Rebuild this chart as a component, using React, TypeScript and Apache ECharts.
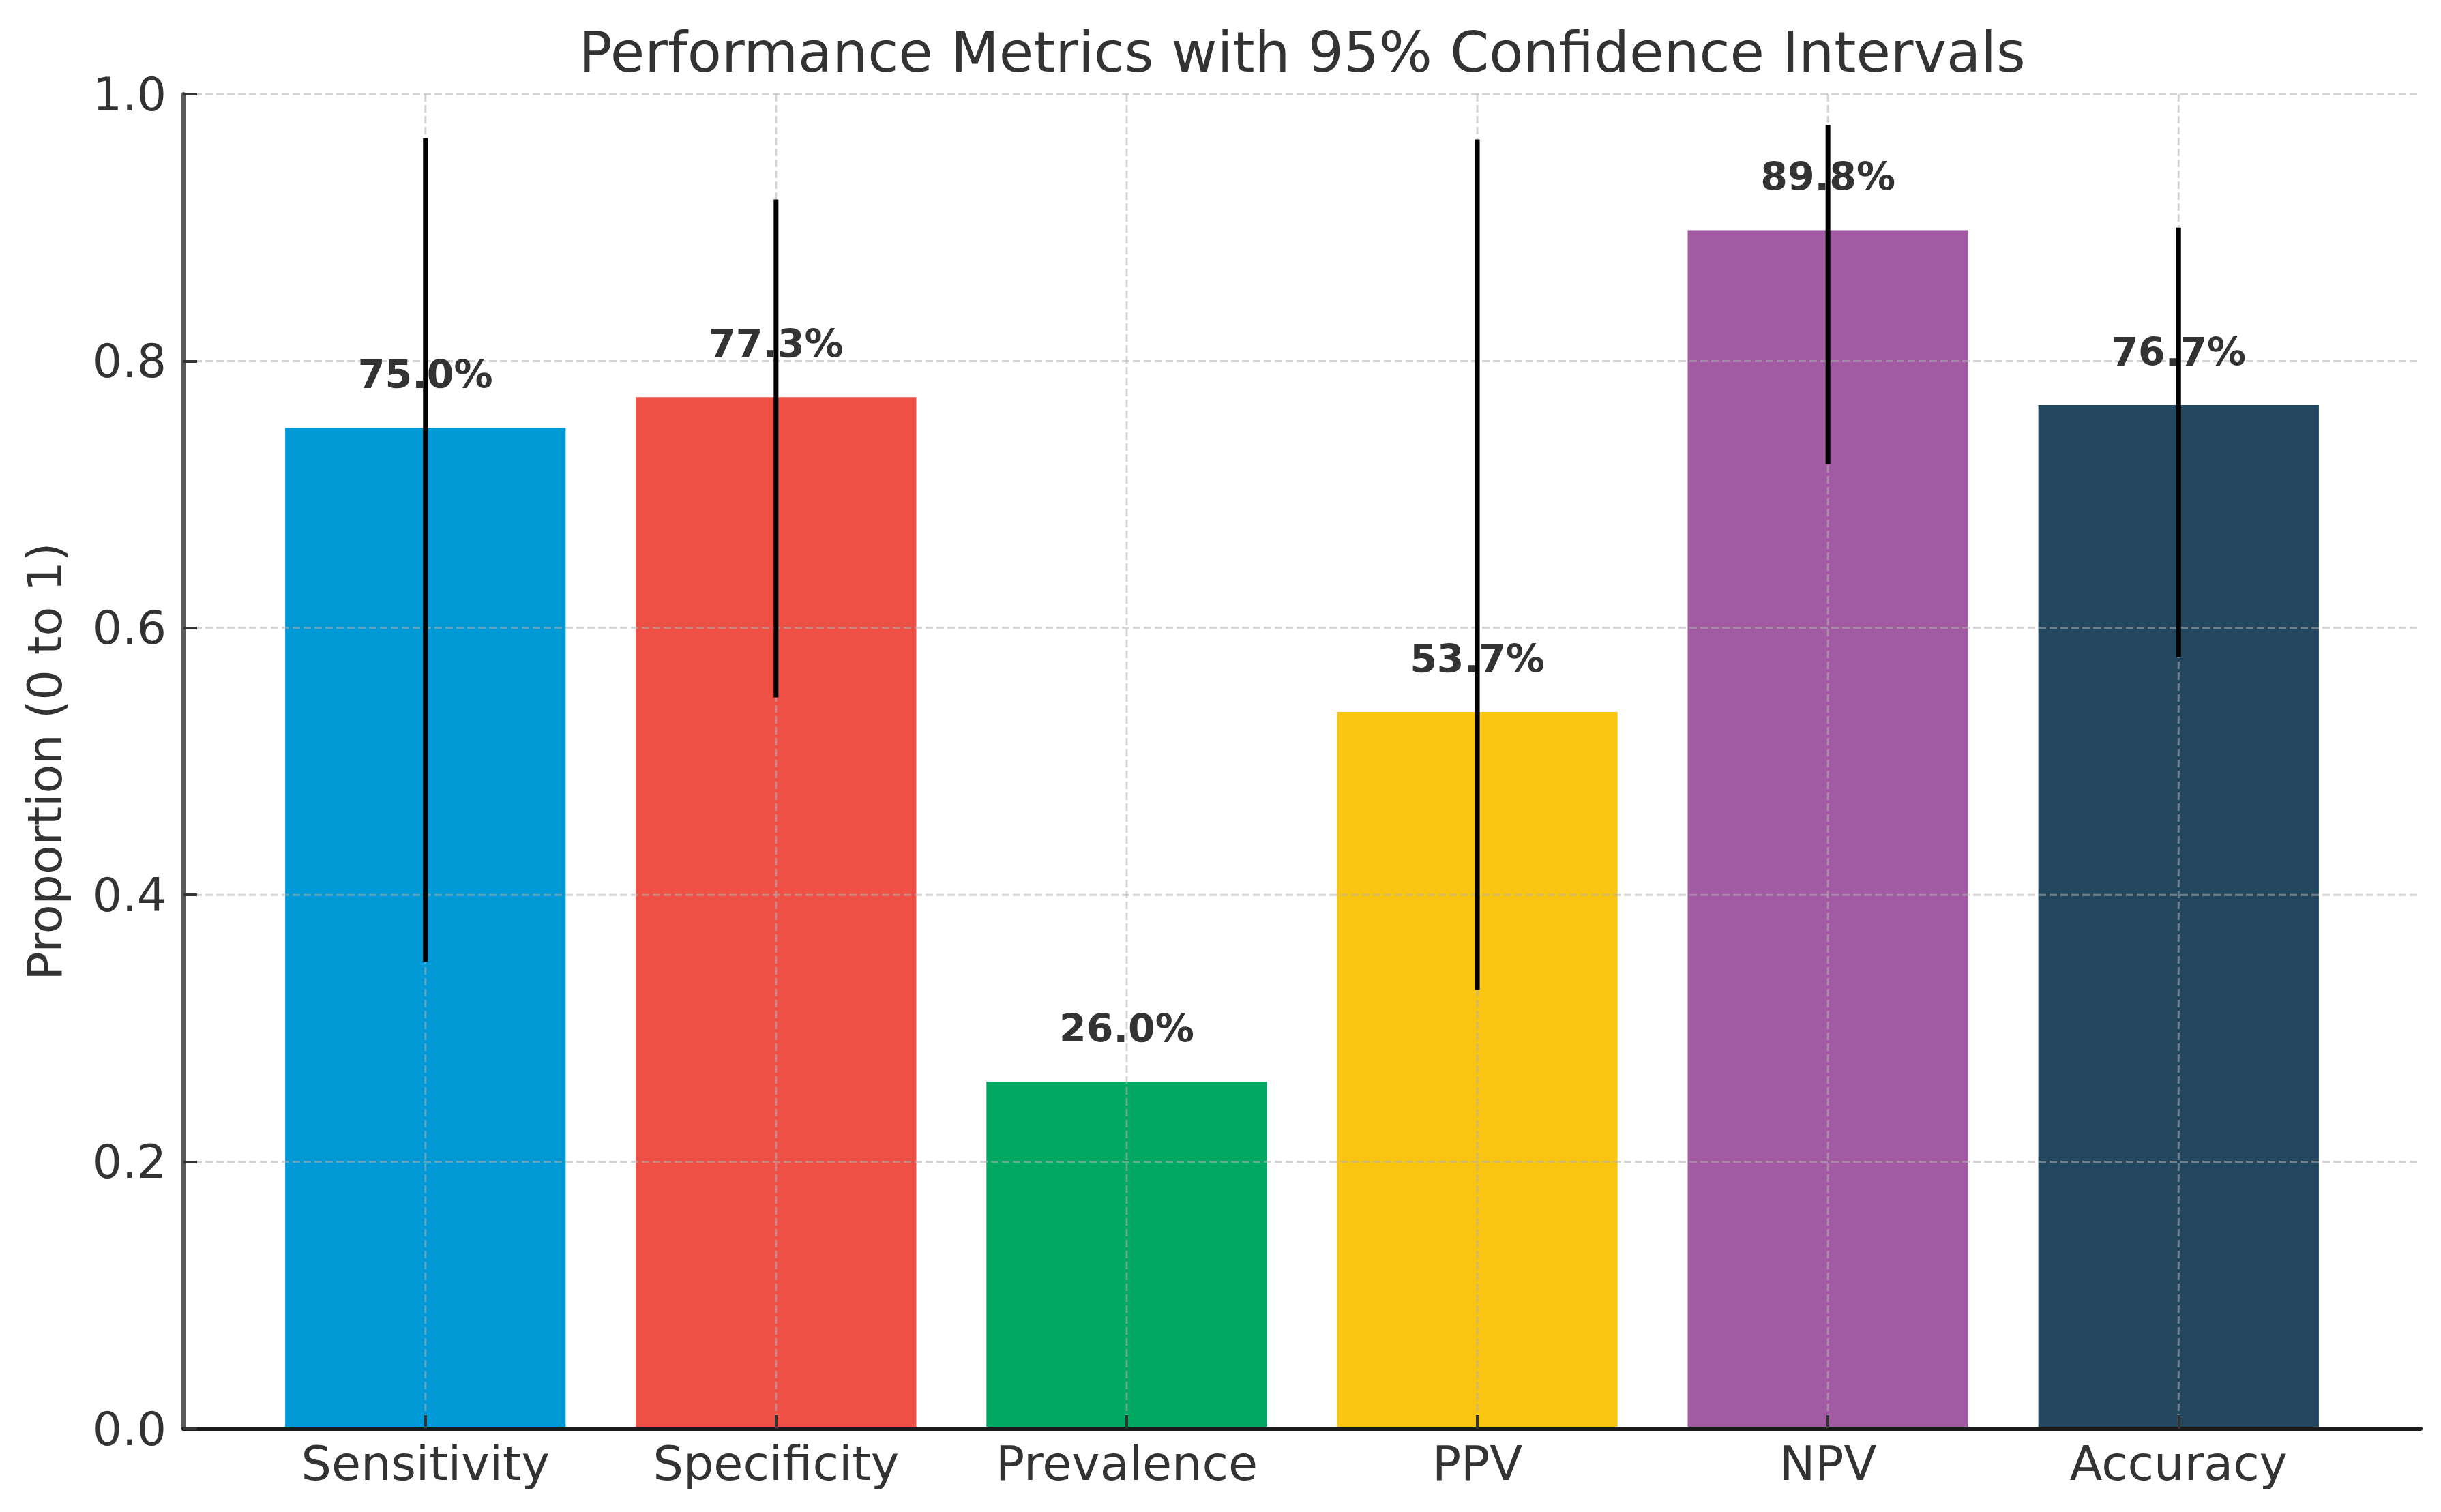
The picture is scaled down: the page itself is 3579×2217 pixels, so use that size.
import React, { useEffect, useRef } from "react";
import * as echarts from "echarts";

const categories = ["Sensitivity", "Specificity", "Prevalence", "PPV", "NPV", "Accuracy"];
const values = [0.75, 0.773, 0.26, 0.537, 0.898, 0.767];
const ciLower = [0.35, 0.548, null, 0.329, 0.723, 0.578];
const ciUpper = [0.967, 0.921, null, 0.966, 0.977, 0.9];
const barColors = ["#0098D5", "#EF5045", "#00A862", "#FAC511", "#A25BA3", "#23475F"];
const yTicks = [0, 0.2, 0.4, 0.6, 0.8, 1.0];
const xTicks = [0, 1, 2, 3, 4, 5];

const FONT = "DejaVu Sans";
const TEXT = "#333333";

export default function App() {
  const ref = useRef<HTMLDivElement>(null);

  useEffect(() => {
    document.body.style.margin = "0";
    if (!ref.current) return;
    const chart = echarts.init(ref.current, null, { renderer: "svg" });

    const barData = values.map((v, i) => [i, v]);
    const errData: number[][] = [];
    values.forEach((v, i) => {
      if (ciLower[i] != null && ciUpper[i] != null) errData.push([i, ciLower[i] as number, ciUpper[i] as number]);
    });

    const option: any = {
      animation: false,
      backgroundColor: "#ffffff",
      grid: { left: 269, right: 30, top: 138, bottom: 122, containLabel: false },
      graphic: [
        {
          type: "text",
          x: 1909,
          y: 76,
          style: {
            text: "Performance Metrics with 95% Confidence Intervals",
            fontFamily: FONT,
            fontSize: 82,
            fill: TEXT,
            textAlign: "center",
            textVerticalAlign: "middle",
          },
        },
      ],
      xAxis: {
        type: "value",
        min: -0.69,
        max: 5.69,
        z: 10,
        axisLine: { show: true, onZero: false, lineStyle: { color: "#1a1a1a", width: 6 } },
        axisTick: {
          show: true,
          inside: true,
          length: 20,
          customValues: xTicks,
          lineStyle: { color: "#333333", width: 4 },
        },
        axisLabel: {
          customValues: xTicks,
          formatter: (v: number) => categories[Math.round(v)] ?? "",
          fontFamily: FONT,
          fontSize: 70,
          color: TEXT,
          margin: 16,
        },
        splitLine: { show: false },
      },
      yAxis: {
        type: "value",
        min: 0,
        max: 1,
        interval: 0.2,
        z: 10,
        name: "Proportion (0 to 1)",
        nameLocation: "middle",
        nameGap: 168,
        nameTextStyle: { fontFamily: FONT, fontSize: 70, color: TEXT },
        axisLine: { show: true, onZero: false, lineStyle: { color: "#5a5a5a", width: 6 } },
        axisTick: { show: true, inside: true, length: 20, lineStyle: { color: "#333333", width: 4 } },
        axisLabel: {
          formatter: (v: number) => v.toFixed(1),
          fontFamily: FONT,
          fontSize: 68,
          color: TEXT,
          margin: 25,
        },
        splitLine: { show: false },
      },
      series: [
        {
          name: "bars",
          type: "custom",
          encode: { x: 0, y: 1 },
          data: barData,
          renderItem: (params: any, api: any) => {
            const i = api.value(0);
            const v = api.value(1);
            const top = api.coord([i, v]);
            const base = api.coord([i, 0]);
            const w = api.size([0.8, 0])[0];
            return {
              type: "rect",
              shape: { x: top[0] - w / 2, y: top[1], width: w, height: base[1] - top[1] },
              style: { fill: barColors[params.dataIndex] },
            };
          },
        },
        {
          name: "hgrid",
          type: "custom",
          encode: { x: 0, y: 1 },
          data: yTicks.map((t) => [0, t]),
          renderItem: (params: any, api: any) => {
            const cs = params.coordSys;
            const p = api.coord([0, api.value(1)]);
            return {
              type: "line",
              shape: { x1: cs.x, y1: p[1], x2: cs.x + cs.width, y2: p[1] },
              style: { stroke: "#b0b0b0", lineWidth: 3, lineDash: [11, 5], opacity: 0.55 },
            };
          },
        },
        {
          name: "vgrid",
          type: "custom",
          encode: { x: 0, y: 1 },
          data: xTicks.map((t) => [t, 0]),
          renderItem: (params: any, api: any) => {
            const cs = params.coordSys;
            const p = api.coord([api.value(0), 0]);
            return {
              type: "line",
              shape: { x1: p[0], y1: cs.y, x2: p[0], y2: cs.y + cs.height },
              style: { stroke: "#b0b0b0", lineWidth: 3, lineDash: [11, 5], opacity: 0.55 },
            };
          },
        },
        {
          name: "labels",
          type: "custom",
          encode: { x: 0, y: 1 },
          data: barData,
          renderItem: (params: any, api: any) => {
            const i = api.value(0);
            const v = api.value(1);
            const p = api.coord([i, v + 0.04]);
            return {
              type: "text",
              x: p[0],
              y: p[1],
              style: {
                text: (v * 100).toFixed(1) + "%",
                fontFamily: FONT,
                fontWeight: "bold",
                fontSize: 57,
                fill: TEXT,
                textAlign: "center",
                textVerticalAlign: "middle",
              },
            };
          },
        },
        {
          name: "errors",
          type: "custom",
          encode: { x: 0, y: [1, 2] },
          data: errData,
          renderItem: (params: any, api: any) => {
            const i = api.value(0);
            const lo = api.coord([i, api.value(1)]);
            const hi = api.coord([i, api.value(2)]);
            return {
              type: "line",
              shape: { x1: lo[0], y1: lo[1], x2: hi[0], y2: hi[1] },
              style: { stroke: "#000000", lineWidth: 7 },
            };
          },
        },
      ],
    };

    chart.setOption(option);
    return () => chart.dispose();
  }, []);

  return <div ref={ref} style={{ width: "3579px", height: "2217px" }} />;
}
